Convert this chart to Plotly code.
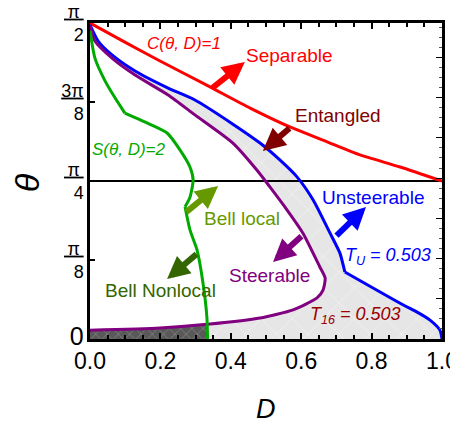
import math
import plotly.graph_objects as go

# ---------------- data (theta in radians, D dimensionless) ----------------
red_D = [0.0, 0.099, 0.199, 0.341, 0.455, 0.568, 0.682, 0.767, 0.881, 1.0]
red_T = [1.571, 1.476, 1.382, 1.253, 1.148, 1.054, 0.974, 0.915, 0.855, 0.785]

blue_D = [0.0, 0.023, 0.0625, 0.128, 0.222, 0.298, 0.406, 0.483, 0.540, 0.588,
          0.634, 0.682, 0.710, 0.724, 0.889, 0.923, 0.966, 0.994, 1.0]
blue_T = [1.561, 1.481, 1.412, 1.332, 1.247, 1.188, 1.068, 0.974, 0.889, 0.806,
          0.691, 0.526, 0.427, 0.333, 0.170, 0.140, 0.094, 0.044, 0.0]
blue_kink = 13

purple_D = [0.0, 0.014, 0.0625, 0.128, 0.222, 0.298, 0.406, 0.474, 0.511, 0.560,
            0.605, 0.653, 0.668, 0.662, 0.645, 0.577, 0.483, 0.341, 0.199, 0.0]
purple_T = [1.557, 1.481, 1.396, 1.312, 1.213, 1.114, 0.974, 0.840, 0.756, 0.641,
            0.526, 0.358, 0.303, 0.243, 0.204, 0.145, 0.104, 0.074, 0.055, 0.044]

green_D = [0.0, 0.014, 0.043, 0.071, 0.099, 0.176, 0.219, 0.256, 0.284, 0.293,
           0.284, 0.270, 0.284, 0.304, 0.321, 0.332, 0.334]
green_T = [1.532, 1.396, 1.282, 1.199, 1.123, 1.063, 1.024, 0.939, 0.855, 0.790,
           0.705, 0.657, 0.542, 0.443, 0.278, 0.110, 0.0]
green_kinks = [4, 11]

y_tickvals = [0, math.pi / 8, math.pi / 4, 3 * math.pi / 8, math.pi / 2]
y_ticktext = ["<span style='font-size:25px'>0</span>",
              "<u>\u2009π\u2009</u><br>8",
              "<u>\u2009π\u2009</u><br>4",
              "<u>3π</u><br>8",
              "<u>\u2009π\u2009</u><br>2"]
x_tickvals = [0.0, 0.2, 0.4, 0.6, 0.8, 1.0]
x_ticktext = ["0.0", "0.2", "0.4", "0.6", "0.8", "1.0"]

# text labels: (text, D, theta, color, italic, size)
labels = [
    ("C(θ, D)=1", 0.267, 1.471, "#ff0000", True, 17),
    ("Separable", 0.568, 1.407, "#ff0000", False, 19),
    ("Entangled", 0.705, 1.109, "#800000", False, 19),
    ("Unsteerable", 0.804, 0.701, "#0000ff", False, 19),
    ("T<sub>U</sub> = 0.503", 0.847, 0.410, "#0000ff", True, 18),
    ("Steerable", 0.511, 0.318, "#800080", False, 19),
    ("T<sub>16</sub> = 0.503", 0.753, 0.116, "#990000", True, 18),
    ("Bell local", 0.432, 0.597, "#669900", False, 19),
    ("Bell Nonlocal", 0.199, 0.239, "#336600", False, 19),
    ("S(θ, D)=2", 0.111, 0.940, "#00aa00", True, 17),
]

# arrows: (tail D, tail theta, head D, head theta, color)
arrows = [
    (0.344, 1.243, 0.440, 1.377, "#ff0000"),
    (0.571, 1.054, 0.491, 0.935, "#800000"),
    (0.696, 0.507, 0.784, 0.656, "#0000ff"),
    (0.605, 0.517, 0.520, 0.383, "#800080"),
    (0.270, 0.626, 0.364, 0.761, "#669900"),
    (0.307, 0.428, 0.219, 0.298, "#336600"),
]

fig = go.Figure()

# light grey region: between blue curve and purple curve (outside purple loop)
poly_D = blue_D + [0.0] + purple_D[::-1]
poly_T = blue_T + [0.0] + purple_T[::-1]
fig.add_trace(go.Scatter(
    x=poly_D, y=poly_T, mode="none", fill="toself", fillcolor="#e6e6e6",
    fillpattern=dict(shape="x", fgcolor="#ffffff", bgcolor="#e6e6e6",
                     size=22, solidity=0.04, fgopacity=0.8),
    hoverinfo="skip", showlegend=False))

# dark region: below purple lower branch, left of green
low = [(d, t) for d, t in zip(purple_D[13:], purple_T[13:]) if d < green_D[-1]]
dark_D = [0.0, green_D[-1], green_D[-1]] + [p[0] for p in low]
dark_T = [0.0, 0.0, 0.072] + [p[1] for p in low]
fig.add_trace(go.Scatter(
    x=dark_D, y=dark_T, mode="none", fill="toself", fillcolor="#595959",
    fillpattern=dict(shape="x", fgcolor="#9a9a9a", bgcolor="#595959",
                     size=8, solidity=0.15, fgopacity=0.8),
    hoverinfo="skip", showlegend=False))

def add_line(xs, ys, color, width=3):
    fig.add_trace(go.Scatter(x=xs, y=ys, mode="lines",
                             line=dict(color=color, width=width, shape="spline", smoothing=0.6),
                             hoverinfo="skip", showlegend=False))

# pi/4 line
fig.add_trace(go.Scatter(x=[0, 1], y=[math.pi / 4, math.pi / 4], mode="lines",
                         line=dict(color="black", width=2), hoverinfo="skip", showlegend=False))

add_line(red_D, red_T, "#ff0000")
add_line(blue_D[:blue_kink + 1], blue_T[:blue_kink + 1], "#0000ff")
add_line(blue_D[blue_kink:], blue_T[blue_kink:], "#0000ff")
add_line(purple_D, purple_T, "#800080")
segs = [0] + green_kinks + [len(green_D) - 1]
for a, b in zip(segs[:-1], segs[1:]):
    add_line(green_D[a:b + 1], green_T[a:b + 1], "#00aa00")

# y2 trace to activate right axis
fig.add_trace(go.Scatter(x=[0], y=[0], yaxis="y2", mode="markers",
                         marker=dict(opacity=0), hoverinfo="skip", showlegend=False))

for text, d, t, col, it, sz in labels:
    fig.add_annotation(x=d, y=t, xref="x", yref="y",
                       text=f"<i>{text}</i>" if it else text,
                       showarrow=False, font=dict(size=sz, color=col,
                                                  family="Liberation Sans, Arial"),
                       xanchor="center", yanchor="middle")

for td, tt, hd, ht, col in arrows:
    fig.add_annotation(x=hd, y=ht, ax=td, ay=tt, xref="x", yref="y",
                       axref="x", ayref="y", text="", showarrow=True,
                       arrowhead=2, arrowwidth=6, arrowsize=0.75, arrowcolor=col)

# axis titles
fig.add_annotation(x=-0.18, y=0.495, xref="paper", yref="paper", text="<i>θ</i>",
                   showarrow=False, textangle=-90, xanchor="center", yanchor="middle",
                   font=dict(size=34, color="black", family="Liberation Sans, Arial"))
fig.add_annotation(x=0.5, y=-0.222, xref="paper", yref="paper", text="<i>D</i>",
                   showarrow=False, xanchor="center", yanchor="middle",
                   font=dict(size=27, color="black", family="Liberation Sans, Arial"))

# page body has an 8px margin: figure is 450x417 placed at (8, 8)
fig.update_layout(
    width=450, height=417,
    margin=dict(l=82, r=16, t=15, b=86, autoexpand=False),
    paper_bgcolor="white", plot_bgcolor="white",
    font=dict(family="Liberation Sans, Arial", color="black"),
    xaxis=dict(range=[0, 1], tickvals=x_tickvals, ticktext=x_ticktext,
               ticks="inside", ticklen=6, tickwidth=1.5, tickcolor="black",
               minor=dict(dtick=0.05, tick0=0, ticks="inside", ticklen=4, tickcolor="black"),
               showline=True, linewidth=2.5, linecolor="black", mirror="ticks",
               showgrid=False, zeroline=False, tickfont=dict(size=23),
               automargin=False, ticklabeloverflow="allow"),
    yaxis=dict(range=[0, math.pi / 2], tickvals=y_tickvals, ticktext=y_ticktext,
               ticks="inside", ticklen=5, tickwidth=1.5, tickcolor="black",
               showline=True, linewidth=2.5, linecolor="black", mirror=True,
               showgrid=False, zeroline=False, tickfont=dict(size=18),
               automargin=False, ticklabeloverflow="allow"),
    yaxis2=dict(range=[0, math.pi / 2], overlaying="y", side="right",
                tickmode="linear", tick0=0, dtick=0.2, ticks="inside", ticklen=6,
                tickcolor="black", showticklabels=False, showgrid=False,
                zeroline=False, showline=False, automargin=False,
                minor=dict(dtick=0.05, tick0=0, ticks="inside", ticklen=3, tickcolor="#555")),
)

fig.write_html("out.html")
